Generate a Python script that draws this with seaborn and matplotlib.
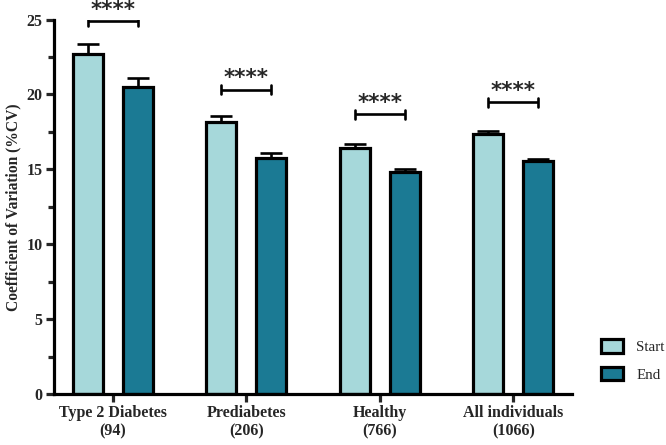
import pandas as pd
import matplotlib
matplotlib.use('Agg')
import matplotlib.pyplot as plt
import matplotlib.patches as mpatches
import seaborn as sns

# data
groups = ['Type 2 Diabetes\n(94)', 'Prediabetes\n(206)', 'Healthy\n(766)', 'All individuals\n(1066)']
phases = ['Start', 'End']
start_cv = [22.7, 18.15, 16.45, 17.35]
end_cv = [20.5, 15.75, 14.8, 15.55]
start_sem = [0.65, 0.42, 0.25, 0.2]
end_sem = [0.6, 0.33, 0.2, 0.17]
bracket_y = [24.9, 20.33, 18.67, 19.47]
stars = ['****', '****', '****', '****']

colors = {'Start': '#a6d8da', 'End': '#1b7a94'}

sns.set_style('white')
plt.rcParams['font.family'] = ['Liberation Serif', 'DejaVu Serif']

df = pd.DataFrame({
    'group': groups * 2,
    'phase': ['Start'] * 4 + ['End'] * 4,
    'cv': start_cv + end_cv,
    'sem': start_sem + end_sem,
})

fig = plt.figure(figsize=(6.66, 4.45), dpi=100)
ax = fig.add_axes([0.081, 0.1146, 0.778, 0.8414])

sns.barplot(data=df, x='group', y='cv', hue='phase', hue_order=phases,
            palette=colors, saturation=1, width=0.75, gap=0.4, errorbar=None,
            edgecolor='black', linewidth=2.3, ax=ax, legend=False)

# error bars (upper only) on top of each bar
for cont, phase in zip(ax.containers, phases):
    sems = df[df['phase'] == phase]['sem'].tolist()
    for bar, s in zip(cont, sems):
        xc = bar.get_x() + bar.get_width() / 2
        h = bar.get_height()
        ax.errorbar(xc, h, yerr=[[0], [s]], fmt='none', ecolor='black',
                    elinewidth=1.9, capsize=8, capthick=1.9, zorder=1)

# significance brackets between start and end bars
for i, (yb, st) in enumerate(zip(bracket_y, stars)):
    b0 = ax.containers[0][i]
    b1 = ax.containers[1][i]
    x0 = b0.get_x() + b0.get_width() / 2
    x1 = b1.get_x() + b1.get_width() / 2
    ax.plot([x0, x1], [yb, yb], color='black', lw=1.9, solid_capstyle='butt')
    for xx in (x0, x1):
        ax.plot([xx, xx], [yb - 0.3, yb + 0.3], color='black', lw=1.9)
    ax.text((x0 + x1) / 2, yb + 0.1, st, ha='center', va='bottom',
            fontsize=15.5, fontweight='bold', family='DejaVu Sans')

ax.set_ylim(0, 25)
ax.set_xlim(-0.44, 3.44)
ax.set_yticks([0, 5, 10, 15, 20, 25])
ax.set_yticks([2.5, 7.5, 12.5, 17.5, 22.5], minor=True)
ax.set_xlabel('')
ax.set_ylabel('Coefficient of Variation (%CV)', fontsize=11.2, fontweight='bold')

for side in ['top', 'right']:
    ax.spines[side].set_visible(False)
for side in ['left', 'bottom']:
    ax.spines[side].set_linewidth(2.3)
    ax.spines[side].set_color('black')

ax.tick_params(axis='both', which='major', direction='out', length=6, width=2.3,
               labelsize=11.5, left=True, bottom=True, pad=2)
ax.tick_params(axis='y', which='minor', direction='out', length=4, width=2.3, left=True)
for lab in ax.get_xticklabels() + ax.get_yticklabels():
    lab.set_fontweight('bold')

handles = [mpatches.Patch(facecolor=colors[p], edgecolor='black', linewidth=2.3, label=p)
           for p in phases]
fig.legend(handles=handles, loc='upper left', bbox_to_anchor=(0.882, 0.268),
           frameon=False, fontsize=10.8, handlelength=1.45, handleheight=1.0,
           handletextpad=0.9, labelspacing=0.85)

fig.savefig('out.png', dpi=100)
